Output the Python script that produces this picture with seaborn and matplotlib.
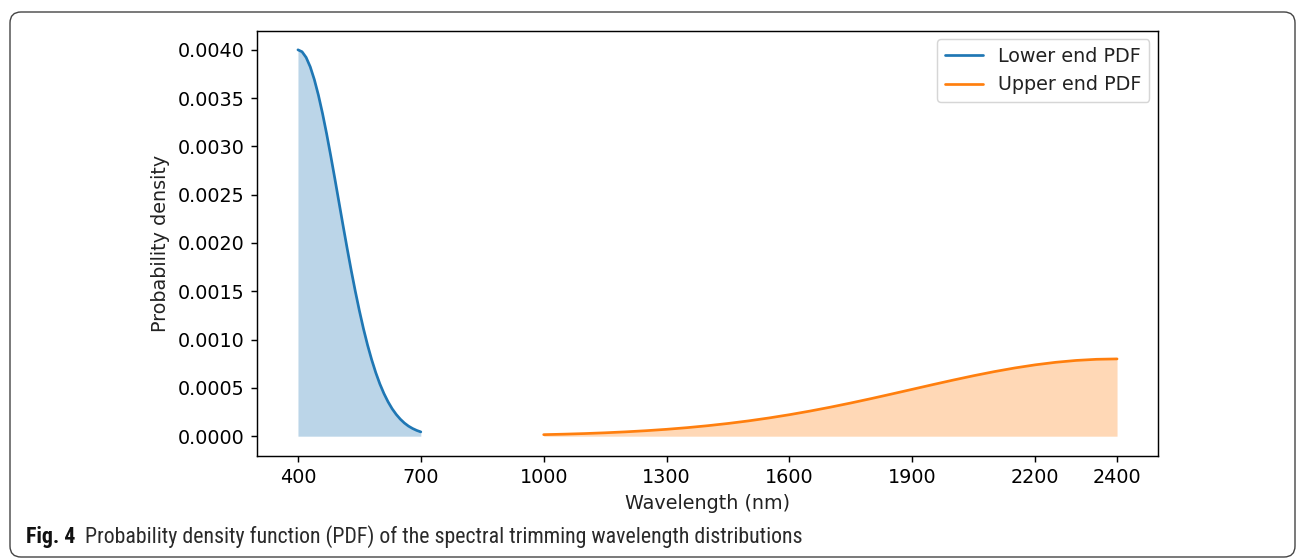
import numpy as np
import pandas as pd
import matplotlib
matplotlib.use("Agg")
import matplotlib.pyplot as plt
from matplotlib import font_manager
from matplotlib.patches import FancyBboxPatch
import seaborn as sns

# Wavelength grids (nm) and probability densities of the two trimming ends
lower_wl = [400, 410, 420, 430, 440, 450, 460, 470, 480, 490, 500,
            510, 520, 530, 540, 550, 560, 570, 580, 590, 600,
            610, 620, 630, 640, 650, 660, 670, 680, 690, 700]
lower_pdf = [0.004000, 0.003980, 0.003921, 0.003824, 0.003692, 0.003530,
             0.003341, 0.003131, 0.002904, 0.002668, 0.002426, 0.002184,
             0.001947, 0.001718, 0.001501, 0.001299, 0.001112, 0.000943,
             0.000792, 0.000658, 0.000541, 0.000441, 0.000356, 0.000284,
             0.000225, 0.000176, 0.000136, 0.000104, 0.0000793, 0.0000596,
             0.0000444]

upper_wl = [1000, 1050, 1100, 1150, 1200, 1250, 1300, 1350, 1400, 1450,
            1500, 1550, 1600, 1650, 1700, 1750, 1800, 1850, 1900, 1950,
            2000, 2050, 2100, 2150, 2200, 2250, 2300, 2350, 2400]
upper_pdf = [0.0000159, 0.0000209, 0.0000272, 0.0000351, 0.0000449,
             0.0000568, 0.0000711, 0.0000882, 0.0001083, 0.0001316,
             0.0001583, 0.0001886, 0.0002224, 0.0002598, 0.0003003,
             0.0003437, 0.0003894, 0.0004369, 0.0004852, 0.0005336,
             0.0005809, 0.0006262, 0.0006682, 0.0007060, 0.0007385,
             0.0007648, 0.0007842, 0.0007960, 0.0008000]

x_ticks = [400, 700, 1000, 1300, 1600, 1900, 2200, 2400]
series_labels = ["Lower end PDF", "Upper end PDF"]
x_label = "Wavelength (nm)"
y_label = "Probability density"
caption_bold = "Fig. 4"
caption_text = "Probability density function (PDF) of the spectral trimming wavelength distributions"

sns.set_style("ticks", {"axes.edgecolor": "black", "xtick.color": "black",
                        "ytick.color": "black", "text.color": "#222222",
                        "axes.labelcolor": "#222222"})
plt.rcParams["font.family"] = ["DejaVu Sans"]

S = 1.3  # overall scale of the plot elements
FS = 13.8
plt.rcParams.update({
    "axes.linewidth": 0.8 * S,
    "xtick.major.width": 0.8 * S, "ytick.major.width": 0.8 * S,
    "xtick.major.size": 3.5 * S, "ytick.major.size": 3.5 * S,
    "xtick.major.pad": 3.5 * S, "ytick.major.pad": 3.5 * S,
    "xtick.labelsize": FS, "ytick.labelsize": FS,
    "axes.labelpad": 4 * S,
})

W, H, DPI = 1296, 558, 100
fig = plt.figure(figsize=(W / DPI, H / DPI), dpi=DPI)
fig.patch.set_facecolor("white")
ax = fig.add_axes([257 / W, 1 - 455.5 / H, (1158 - 257) / W, (455.5 - 30.5) / H])

lower_df = pd.DataFrame({"wavelength": lower_wl, "density": lower_pdf})
upper_df = pd.DataFrame({"wavelength": upper_wl, "density": upper_pdf})

blue, orange = "#1f77b4", "#ff7f0e"
sns.lineplot(data=lower_df, x="wavelength", y="density", ax=ax, color=blue,
             lw=1.5 * S, label=series_labels[0])
ax.fill_between(lower_df["wavelength"], lower_df["density"], color=blue,
                alpha=0.3, lw=0)
sns.lineplot(data=upper_df, x="wavelength", y="density", ax=ax, color=orange,
             lw=1.5 * S, label=series_labels[1])
ax.fill_between(upper_df["wavelength"], upper_df["density"], color=orange,
                alpha=0.3, lw=0)

ax.set_xlim(300, 2500)
ax.set_ylim(-0.0002, 0.0042)
ax.set_xticks(x_ticks)
ax.set_yticks(np.arange(0, 0.00401, 0.0005))
ax.yaxis.set_major_formatter(matplotlib.ticker.FormatStrFormatter("%.4f"))
ax.set_xlabel(x_label, fontsize=FS)
ax.set_ylabel(y_label, fontsize=FS)
for s in ax.spines.values():
    s.set_visible(True)

leg = ax.legend(loc="upper right", fontsize=FS, frameon=True,
                borderaxespad=0.45)
leg.get_frame().set_edgecolor("#cccccc")
leg.get_frame().set_linewidth(0.8 * S)

# Rounded frame around the whole figure, in pixel coordinates
frame = FancyBboxPatch((10, 1), 1285, H - 12 - 1,
                       boxstyle="round,pad=0,rounding_size=11",
                       transform=None, fill=False, edgecolor="#444444",
                       lw=1.0, zorder=0)
fig.patches.append(frame)

# Caption: condensed sans face if available
available = {f.name for f in font_manager.fontManager.ttflist}
cap_family = "DejaVu Sans"
for cand in ["Roboto Condensed", "Liberation Sans Narrow", "Open Sans Condensed", "Lato"]:
    if cand in available:
        cap_family = cand
        break

renderer = fig.canvas.get_renderer()
cap_fs = 13.5
cap_y = 1 - 537 / H
t1 = fig.text(26 / W, cap_y, caption_bold, fontsize=cap_fs, fontweight="bold",
              family=cap_family, va="center", ha="left", color="#111111")
t2 = fig.text(0, cap_y, caption_text, fontsize=cap_fs, family=cap_family,
              va="center", ha="left", color="#2a2a2a")
# size the caption so that it spans the target width
for _ in range(3):
    b1 = t1.get_window_extent(renderer)
    t2.set_x((b1.x1 + 10) / W)
    b2 = t2.get_window_extent(renderer)
    scale = (800 - 26) / (b2.x1 - b1.x0)
    cap_fs *= scale
    t1.set_fontsize(cap_fs)
    t2.set_fontsize(cap_fs)
b1 = t1.get_window_extent(renderer)
t2.set_x((b1.x1 + 10) / W)

fig.savefig("out.png", dpi=DPI, facecolor="white")
